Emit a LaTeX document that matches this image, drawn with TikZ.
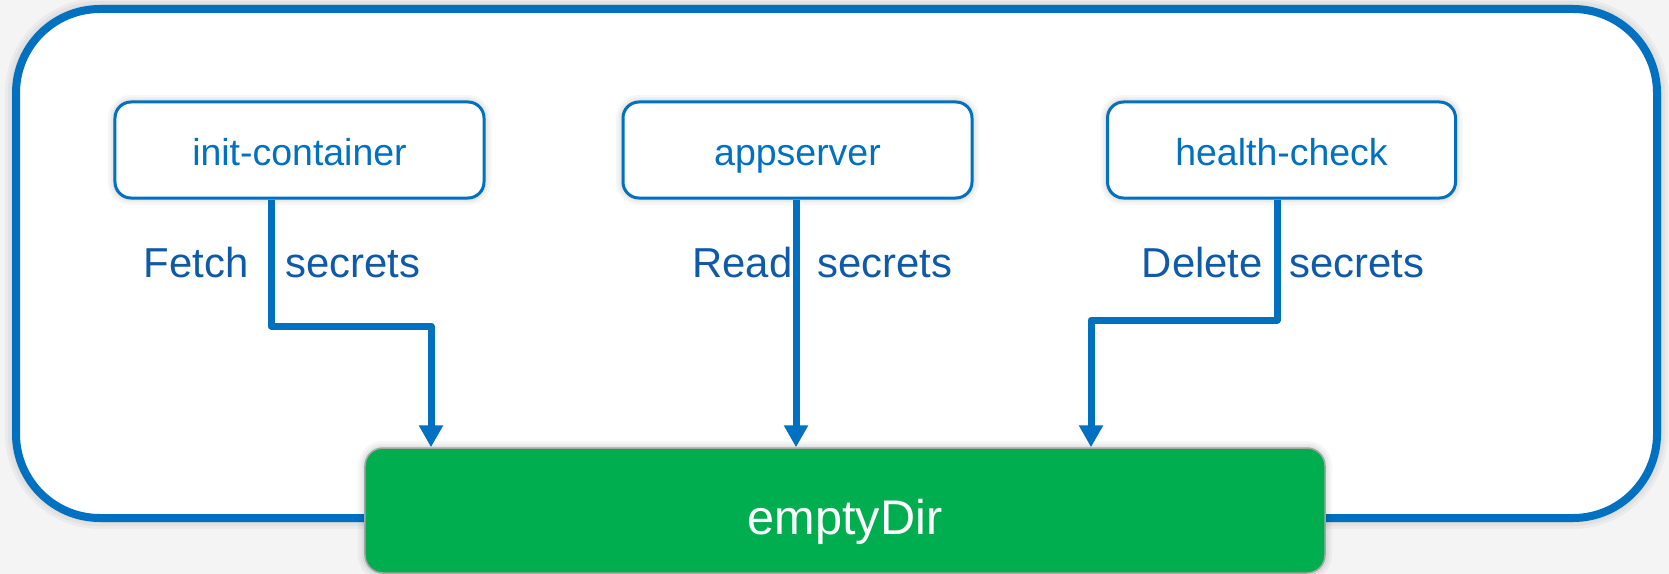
\documentclass[tikz,border=0pt]{standalone}
\usepackage{fontspec}
\setmainfont{Liberation Sans}
\usetikzlibrary{arrows.meta,calc}

\definecolor{podblue}{RGB}{0,112,192}
\definecolor{labelblue}{RGB}{14,90,168}
\definecolor{volgreen}{RGB}{0,174,80}
\definecolor{volborder}{RGB}{165,165,165}
\definecolor{canvas}{RGB}{244,244,244}

\tikzset{
  container/.style={draw=podblue, line width=3bp, fill=white, rounded corners=16bp,
    minimum height=96bp, text=podblue, font=\fontsize{37.6}{40}\selectfont,
    text height=40bp, text depth=8bp, inner sep=0pt},
  volume/.style={draw=volborder, line width=1.5bp, fill=volgreen, rounded corners=18bp,
    text=white, font=\fontsize{48.8}{52}\selectfont, text height=57bp, text depth=10bp,
    inner sep=0pt},
  conn/.style={draw=podblue, line width=7bp, line join=round,
    -{Triangle[width=23bp,length=22bp]}},
  action/.style={text=labelblue, font=\fontsize{42}{45}\selectfont, inner sep=0pt},
  glow/.style={draw=black, opacity=0.035, line width=#1},
}

\begin{document}
\begin{tikzpicture}[x=1bp,y=-1bp]
  % canvas
  \fill[canvas] (0,0) rectangle (1669,574);
  \useasboundingbox (0,0) rectangle (1669,574);

  % pod outline with a soft halo
  \foreach \w in {22,16,10} {
    \draw[glow=\w bp, rounded corners=84bp] (16,9) rectangle (1657,518);
  }
  \draw[podblue, line width=8bp, fill=white, rounded corners=84bp] (16,9) rectangle (1657,518);

  % containers
  \foreach \cx/\cw in {299.5/369, 797.5/349, 1281.5/348} {
    \foreach \w in {14,9,5} {
      \draw[glow=\w bp, rounded corners=16bp] (\cx-\cw/2,102) rectangle (\cx+\cw/2,198);
    }
  }
  \node[container, minimum width=369bp] (ic) at (299.5,150) {init-container};
  \node[container, minimum width=349bp] (as) at (797.5,150) {appserver};
  \node[container, minimum width=348bp] (hc) at (1281.5,150) {health-check};

  % shared volume
  \foreach \w in {14,9,5} {
    \draw[glow=\w bp, rounded corners=18bp] (365,448) rectangle (1325,573);
  }
  \node[volume, minimum width=960bp, minimum height=125bp] (ed) at (845,510.5) {emptyDir};

  % bend points of the connectors
  \coordinate (f1) at (271,326);
  \coordinate (f2) at (431,326);
  \coordinate (r1) at (796,300);
  \coordinate (d1) at (1277,320);
  \coordinate (d2) at (1091,320);

  % connectors
  \draw[conn] (ic.south -| f1) -- (f1) -- (f2) -- (f2 |- ed.north);
  \draw[conn] (as.south -| r1) -- (r1 |- ed.north);
  \draw[conn] (hc.south -| d1) -- (d1) -- (d2) -- (d2 |- ed.north);

  % connector labels
  \node[action, anchor=base east] (fetch) at (248.5,277) {Fetch};
  \node[action, anchor=base west] (fsec) at (285,277) {secrets};
  \node[action, anchor=base east] (read) at (792.5,277) {Read};
  \node[action, anchor=base west] (rsec) at (817,277) {secrets};
  \node[action, anchor=base east] (del) at (1263,277) {Delete};
  \node[action, anchor=base west] (dsec) at (1289,277) {secrets};
\end{tikzpicture}
\end{document}
